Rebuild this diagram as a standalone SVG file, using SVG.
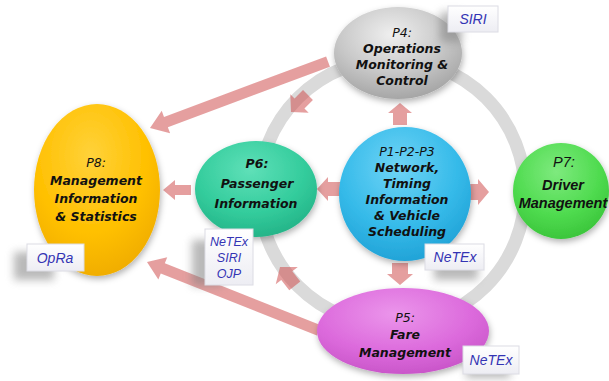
<svg xmlns="http://www.w3.org/2000/svg" width="609" height="381" viewBox="0 0 609 381">
<defs>
<radialGradient id="gGray" cx="0.45" cy="0.3" r="0.75">
<stop offset="0" stop-color="#efefef"/><stop offset="0.55" stop-color="#c8c8c8"/><stop offset="1" stop-color="#a0a0a0"/>
</radialGradient>
<radialGradient id="gGold" cx="0.45" cy="0.3" r="0.75">
<stop offset="0" stop-color="#ffd23a"/><stop offset="0.6" stop-color="#ffc000"/><stop offset="1" stop-color="#eeaa00"/>
</radialGradient>
<radialGradient id="gTeal" cx="0.45" cy="0.3" r="0.75">
<stop offset="0" stop-color="#5fe0b8"/><stop offset="0.6" stop-color="#33cc9c"/><stop offset="1" stop-color="#22b085"/>
</radialGradient>
<radialGradient id="gBlue" cx="0.45" cy="0.3" r="0.75">
<stop offset="0" stop-color="#6fd4f6"/><stop offset="0.6" stop-color="#35bae9"/><stop offset="1" stop-color="#1e9fd4"/>
</radialGradient>
<radialGradient id="gGreen" cx="0.45" cy="0.3" r="0.75">
<stop offset="0" stop-color="#7eea7e"/><stop offset="0.6" stop-color="#4fdb4f"/><stop offset="1" stop-color="#38c238"/>
</radialGradient>
<radialGradient id="gPink" cx="0.45" cy="0.3" r="0.75">
<stop offset="0" stop-color="#eb95eb"/><stop offset="0.6" stop-color="#dc6adc"/><stop offset="1" stop-color="#c652c6"/>
</radialGradient>
<linearGradient id="gLbl" x1="0" y1="0" x2="0" y2="1">
<stop offset="0" stop-color="#ffffff"/><stop offset="1" stop-color="#ededf3"/>
</linearGradient>
<filter id="sh" x="-20%" y="-20%" width="140%" height="150%">
<feDropShadow dx="1" dy="3" stdDeviation="3" flood-color="#000" flood-opacity="0.3"/>
</filter>
<filter id="blur" x="-50%" y="-50%" width="200%" height="200%">
<feGaussianBlur stdDeviation="4"/>
</filter>
</defs>
<style>
.ring{fill:none;stroke:#dadada;stroke-width:13}
.arr{fill:#cf5151;fill-opacity:0.55}
.t{font-family:"DejaVu Sans",sans-serif;font-size:12.5px;font-style:italic;font-weight:bold;fill:#111;text-anchor:middle}
.tn{font-weight:normal}
.ar{font-family:"Liberation Sans",Arial,sans-serif;font-size:14.5px}
.lb{fill:url(#gLbl);stroke:#dcdce4;stroke-width:1}
.lt{font-family:"Liberation Sans",Arial,sans-serif;font-style:italic;font-size:14px;fill:#3434b4;text-anchor:middle}
.shd{fill:#808080;opacity:0.55;filter:url(#blur)}
.node{filter:url(#sh)}
</style>
<rect width="609" height="381" fill="#ffffff"/>
<circle class="ring" cx="392" cy="192" r="133"/>
<g id="connectors">
<path class="arr" transform="translate(150,128) rotate(159.55)" d="M-190,-5.5H-17V-12L0,0L-17,12V5.5H-190Z"/>
<path class="arr" transform="translate(147,262) rotate(201.7)" d="M-185,-5.5H-17V-12L0,0L-17,12V5.5H-185Z"/>
<path class="arr" transform="translate(163,190) rotate(180)" d="M-28,-5H-12V-10L0,0L-12,10V5H-28Z"/>
<path class="arr" transform="translate(317,189) rotate(180)" d="M-24,-7H-11V-12L0,0L-11,12V7H-24Z"/>
<path class="arr" transform="translate(400,103) rotate(-90)" d="M-22,-7H-10V-12L0,0L-10,12V7H-22Z"/>
<path class="arr" transform="translate(489,192)" d="M-22,-8H-11V-13L0,0L-11,13V8H-22Z"/>
<path class="arr" transform="translate(400,285) rotate(90)" d="M-22,-8H-11V-13L0,0L-11,13V8H-22Z"/>
<path class="arr" transform="translate(291,112) rotate(135)" d="M-24,-7H-12V-13L0,0L-12,13V7H-24Z"/>
<path class="arr" transform="translate(280,267) rotate(232)" d="M-24,-7H-11V-14L0,0L-11,14V7H-24Z"/>
</g>
<g id="p4" class="node">
<ellipse cx="398" cy="53" rx="64" ry="46" fill="url(#gGray)"/>
</g>
<g id="p4-text">
<text class="t tn" x="402" y="37">P4:</text>
<text class="t" x="402" y="53">Operations</text>
<text class="t" x="402" y="69">Monitoring &amp;</text>
<text class="t" x="402" y="85">Control</text>
</g>
<g id="p8" class="node">
<ellipse cx="97" cy="190" rx="63" ry="86" fill="url(#gGold)"/>
</g>
<g id="p8-text">
<text class="t tn" x="96" y="167">P8:</text>
<text class="t" x="96" y="185">Management</text>
<text class="t" x="96" y="203">Information</text>
<text class="t" x="96" y="221">&amp; Statistics</text>
</g>
<g id="p6" class="node">
<ellipse cx="256" cy="189" rx="61" ry="48" fill="url(#gTeal)"/>
</g>
<g id="p6-text">
<text class="t" x="257" y="168">P6:</text>
<text class="t" x="257" y="188">Passenger</text>
<text class="t" x="256" y="208">Information</text>
</g>
<g id="p123" class="node">
<ellipse cx="405" cy="194" rx="66" ry="67" fill="url(#gBlue)"/>
</g>
<g id="p123-text">
<text class="t tn" x="407" y="156">P1-P2-P3</text>
<text class="t" x="407" y="172">Network,</text>
<text class="t" x="407" y="188">Timing</text>
<text class="t" x="407" y="204">Information</text>
<text class="t" x="407" y="220">&amp; Vehicle</text>
<text class="t" x="407" y="236">Scheduling</text>
</g>
<g id="p7" class="node">
<ellipse cx="561" cy="191" rx="48" ry="48" fill="url(#gGreen)"/>
</g>
<g id="p7-text">
<text class="t tn ar" x="564" y="167">P7:</text>
<text class="t ar" x="563" y="190">Driver</text>
<text class="t ar" x="563" y="208">Management</text>
</g>
<g id="p5" class="node">
<ellipse cx="403" cy="331" rx="86" ry="43" fill="url(#gPink)"/>
</g>
<g id="p5-text">
<text class="t tn" x="405" y="322">P5:</text>
<text class="t" x="405" y="339">Fare</text>
<text class="t" x="405" y="357">Management</text>
</g>
<g id="label-siri">
<rect class="shd" x="440" y="12" width="22" height="30"/>
<rect class="lb" x="448" y="6" width="50" height="26"/>
<text class="lt" x="473" y="24">SIRI</text>
</g>
<g id="label-opra">
<rect class="shd" x="14" y="252" width="40" height="28"/>
<rect class="lb" x="27" y="244" width="57" height="27"/>
<text class="lt" x="55" y="263">OpRa</text>
</g>
<g id="label-p6">
<rect class="shd" x="192" y="240" width="30" height="46"/>
<rect class="lb" x="205" y="229" width="48" height="56"/>
<text class="lt" x="229" y="246" style="font-size:12.5px">NeTEx</text>
<text class="lt" x="229" y="262" style="font-size:12.5px">SIRI</text>
<text class="lt" x="229" y="278" style="font-size:12.5px">OJP</text>
</g>
<g id="label-netex-center">
<rect class="shd" x="434" y="258" width="44" height="22"/>
<rect class="lb" x="425" y="244" width="59" height="26"/>
<text class="lt" x="455" y="262">NeTEx</text>
</g>
<g id="label-netex-p5">
<rect class="shd" x="466" y="356" width="44" height="22"/>
<rect class="lb" x="463" y="346" width="56" height="28"/>
<text class="lt" x="491" y="365">NeTEx</text>
</g>
</svg>
